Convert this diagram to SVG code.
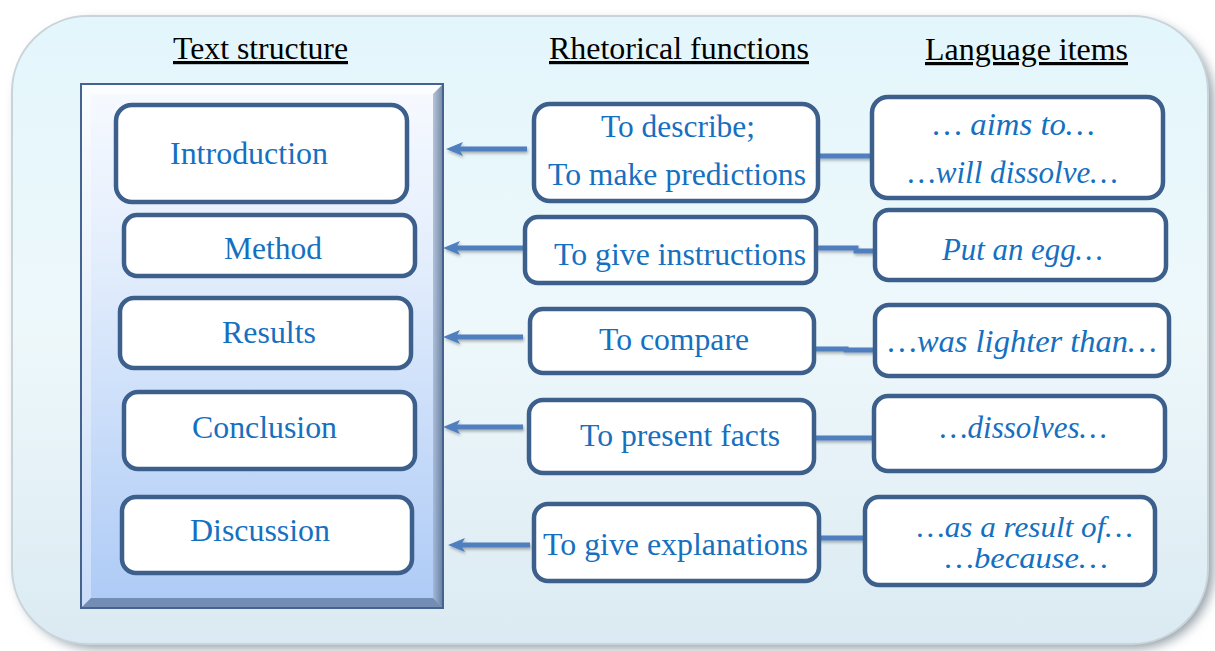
<svg xmlns="http://www.w3.org/2000/svg" width="1215" height="651" viewBox="0 0 1215 651">
<defs>
  <linearGradient id="bgGrad" x1="0" y1="0" x2="0" y2="1">
    <stop offset="0" stop-color="#e3f6fc"/>
    <stop offset="0.5" stop-color="#eef8fb"/>
    <stop offset="1" stop-color="#dbeaf2"/>
  </linearGradient>
  <linearGradient id="panelGrad" x1="0" y1="0" x2="0" y2="1">
    <stop offset="0" stop-color="#f7faff"/>
    <stop offset="0.35" stop-color="#e2edfc"/>
    <stop offset="1" stop-color="#adcaf6"/>
  </linearGradient>
  <linearGradient id="rightBevel" x1="0" y1="0" x2="1" y2="0">
    <stop offset="0" stop-color="#9fb3cf"/>
    <stop offset="1" stop-color="#4d6384"/>
  </linearGradient>
  <filter id="soft" x="-20%" y="-20%" width="140%" height="140%">
    <feGaussianBlur stdDeviation="6"/>
  </filter>
  <filter id="lineShadow" x="-10%" y="-100%" width="120%" height="300%">
    <feGaussianBlur in="SourceAlpha" stdDeviation="1.5"/>
    <feOffset dx="1" dy="2" result="b"/>
    <feComponentTransfer><feFuncA type="linear" slope="0.3"/></feComponentTransfer>
    <feMerge><feMergeNode/><feMergeNode in="SourceGraphic"/></feMerge>
  </filter>
  <marker id="arrow" markerUnits="userSpaceOnUse" markerWidth="18" markerHeight="16" refX="4" refY="8" orient="auto">
    <path d="M17,8 L0,1 L4,8 L0,15 Z" fill="#4f7fbe"/>
  </marker>
  <style>
    .box { fill: #ffffff; stroke: #3d5f8c; stroke-width: 4.5; }
    .lbl { font-family: "Liberation Serif", "Times New Roman", serif; font-size: 32px; fill: #1570bf; }
    .it { font-style: italic; }
    .hdr { font-family: "Liberation Serif", "Times New Roman", serif; font-size: 32px; fill: #000000; text-decoration: underline; }
    .arr { stroke: #4f7fbe; stroke-width: 5; fill: none; }
  </style>
</defs>

<!-- background frame -->
<g id="frame">
  <rect x="18" y="22" width="1195" height="626" rx="78" fill="#8e9aa3" filter="url(#soft)"/>
  <rect x="12" y="16" width="1196" height="628" rx="76" fill="url(#bgGrad)" stroke="#c8d4da" stroke-width="2"/>
</g>

<!-- headers -->
<g id="headers">
  <text class="hdr" x="173" y="59" textLength="175" lengthAdjust="spacingAndGlyphs">Text structure</text>
  <text class="hdr" x="549" y="59" textLength="260" lengthAdjust="spacingAndGlyphs">Rhetorical functions</text>
  <text class="hdr" x="925" y="60" textLength="203" lengthAdjust="spacingAndGlyphs">Language items</text>
</g>

<!-- left panel -->
<g id="panel">
  <rect x="81" y="84" width="362" height="524" fill="url(#panelGrad)"/>
  <polygon points="81,84 443,84 433,94 91,94" fill="#ffffff" opacity="0.6"/>
  <polygon points="81,84 91,94 91,598 81,608" fill="#ffffff" opacity="0.35"/>
  <polygon points="443,84 443,608 433,598 433,94" fill="url(#rightBevel)" opacity="0.75"/>
  <polygon points="81,608 91,598 433,598 443,608" fill="#5a7398" opacity="0.7"/>
  <rect x="81" y="84" width="362" height="524" fill="none" stroke="#44648f" stroke-width="2"/>
</g>

<!-- text structure nodes -->
<g id="introduction">
  <rect class="box" x="116" y="105" width="291" height="97" rx="16"/>
  <text class="lbl" x="170" y="164" textLength="158" lengthAdjust="spacingAndGlyphs">Introduction</text>
</g>
<g id="method">
  <rect class="box" x="124" y="215" width="291" height="61" rx="13"/>
  <text class="lbl" x="224" y="259" textLength="98" lengthAdjust="spacingAndGlyphs">Method</text>
</g>
<g id="results">
  <rect class="box" x="120" y="298" width="291" height="70" rx="14"/>
  <text class="lbl" x="222" y="343" textLength="94" lengthAdjust="spacingAndGlyphs">Results</text>
</g>
<g id="conclusion">
  <rect class="box" x="124" y="392" width="291" height="77" rx="14"/>
  <text class="lbl" x="192" y="438" textLength="145" lengthAdjust="spacingAndGlyphs">Conclusion</text>
</g>
<g id="discussion">
  <rect class="box" x="122" y="497" width="290" height="76" rx="14"/>
  <text class="lbl" x="190" y="541" textLength="140" lengthAdjust="spacingAndGlyphs">Discussion</text>
</g>

<!-- connectors -->
<g id="connectors" filter="url(#lineShadow)">
  <line class="arr" x1="527" y1="149" x2="459" y2="149" marker-end="url(#arrow)"/>
  <line class="arr" x1="523" y1="248" x2="456" y2="248" marker-end="url(#arrow)"/>
  <line class="arr" x1="523" y1="337" x2="456" y2="337" marker-end="url(#arrow)"/>
  <line class="arr" x1="523" y1="427" x2="456" y2="427" marker-end="url(#arrow)"/>
  <line class="arr" x1="530" y1="545" x2="461" y2="545" marker-end="url(#arrow)"/>
  <polyline class="arr" points="818,156 872,156"/>
  <polyline class="arr" points="816,248 856,248 856,251 875,251"/>
  <polyline class="arr" points="814,349 846,349 846,350 875,350"/>
  <polyline class="arr" points="814,438 874,438"/>
  <polyline class="arr" points="819,538 865,538"/>
</g>

<!-- rhetorical function nodes -->
<g id="describe">
  <rect class="box" x="534" y="104" width="284" height="97" rx="16"/>
  <text class="lbl" x="601" y="137" textLength="154" lengthAdjust="spacingAndGlyphs">To describe;</text>
  <text class="lbl" x="548" y="185" textLength="258" lengthAdjust="spacingAndGlyphs">To make predictions</text>
</g>
<g id="instructions">
  <rect class="box" x="525" y="217" width="291" height="66" rx="13"/>
  <text class="lbl" x="554" y="265" textLength="252" lengthAdjust="spacingAndGlyphs">To give instructions</text>
</g>
<g id="compare">
  <rect class="box" x="530" y="309" width="284" height="64" rx="13"/>
  <text class="lbl" x="599" y="350" textLength="150" lengthAdjust="spacingAndGlyphs">To compare</text>
</g>
<g id="facts">
  <rect class="box" x="529" y="400" width="285" height="73" rx="14"/>
  <text class="lbl" x="580" y="446" textLength="200" lengthAdjust="spacingAndGlyphs">To present facts</text>
</g>
<g id="explanations">
  <rect class="box" x="534" y="504" width="285" height="77" rx="14"/>
  <text class="lbl" x="543" y="555" textLength="265" lengthAdjust="spacingAndGlyphs">To give explanations</text>
</g>

<!-- language item nodes -->
<g id="aims">
  <rect class="box" x="872" y="97" width="291" height="101" rx="16"/>
  <text class="lbl it" x="933" y="135" textLength="162" lengthAdjust="spacingAndGlyphs">… aims to…</text>
  <text class="lbl it" x="908" y="183" textLength="210" lengthAdjust="spacingAndGlyphs">…will dissolve…</text>
</g>
<g id="egg">
  <rect class="box" x="875" y="210" width="291" height="70" rx="14"/>
  <text class="lbl it" x="942" y="260" textLength="161" lengthAdjust="spacingAndGlyphs">Put an egg…</text>
</g>
<g id="lighter">
  <rect class="box" x="875" y="305" width="294" height="71" rx="14"/>
  <text class="lbl it" x="888" y="352" textLength="269" lengthAdjust="spacingAndGlyphs">…was lighter than…</text>
</g>
<g id="dissolves">
  <rect class="box" x="874" y="396" width="291" height="75" rx="14"/>
  <text class="lbl it" x="940" y="438" textLength="167" lengthAdjust="spacingAndGlyphs">…dissolves…</text>
</g>
<g id="because">
  <rect class="box" x="865" y="497" width="290" height="88" rx="14"/>
  <text class="lbl it" x="917" y="537" style="font-size:29px" textLength="216" lengthAdjust="spacingAndGlyphs">…as a result of…</text>
  <text class="lbl it" x="945" y="568" style="font-size:29px" textLength="163" lengthAdjust="spacingAndGlyphs">…because…</text>
</g>
</svg>
